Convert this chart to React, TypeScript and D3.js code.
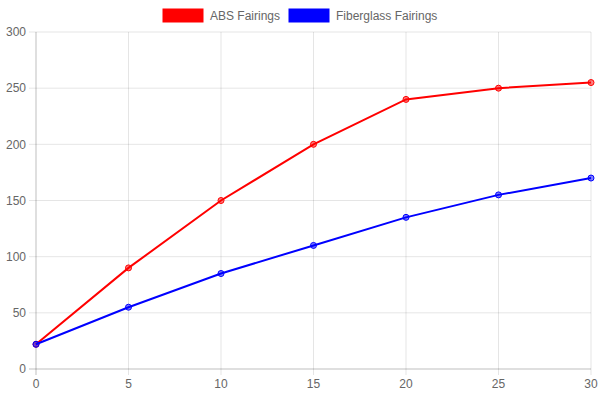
import React from "react";
import * as d3 from "d3";

const xValues = [0, 5, 10, 15, 20, 25, 30];
const absValues = [22, 90, 150, 200, 240, 250, 255];
const fiberValues = [22, 55, 85, 110, 135, 155, 170];
const yTicks = [0, 50, 100, 150, 200, 250, 300];
const seriesNames = ["ABS Fairings", "Fiberglass Fairings"];
const seriesColors = ["#ff0000", "#0000ff"];
const seriesFills = ["rgba(255,0,0,0.5)", "rgba(0,0,255,0.5)"];

const W = 600;
const H = 400;
const left = 36;
const right = 591;
const top = 32;
const bottom = 369;
const font = "'Liberation Sans', Arial, Helvetica, sans-serif";

export default function App() {
  const x = d3.scaleLinear().domain([0, 30]).range([left, right]);
  const y = d3.scaleLinear().domain([0, 300]).range([bottom, top]);
  const line = d3
    .line<number>()
    .x((_, i) => x(xValues[i]))
    .y((d) => y(d));
  const series = [absValues, fiberValues];

  return (
    <svg
      width={W}
      height={H}
      style={{ position: "absolute", left: 0, top: 0 }}
      fontFamily={font}
    >
      <rect width={W} height={H} fill="#fff" />
      {xValues.map((v) => (
        <line
          key={"gx" + v}
          x1={x(v)}
          x2={x(v)}
          y1={top}
          y2={bottom + 6}
          stroke={v === 0 ? "rgba(0,0,0,0.25)" : "rgba(0,0,0,0.1)"}
          strokeWidth={1}
        />
      ))}
      {yTicks.map((v) => (
        <line
          key={"gy" + v}
          x1={left - 7}
          x2={right}
          y1={y(v)}
          y2={y(v)}
          stroke={v === 0 ? "rgba(0,0,0,0.25)" : "rgba(0,0,0,0.1)"}
          strokeWidth={1}
        />
      ))}
      {yTicks.map((v) => (
        <text
          key={"ty" + v}
          x={left - 10}
          y={y(v)}
          dy="0.35em"
          textAnchor="end"
          fontSize={12}
          fill="#666"
        >
          {v}
        </text>
      ))}
      {xValues.map((v) => (
        <text
          key={"tx" + v}
          x={x(v)}
          y={bottom + 19}
          textAnchor="middle"
          fontSize={12}
          fill="#666"
        >
          {v}
        </text>
      ))}
      {series.map((s, si) => (
        <g key={"s" + si}>
          <path
            d={line(s) || ""}
            fill="none"
            stroke={seriesColors[si]}
            strokeWidth={2}
          />
          {s.map((v, i) => (
            <circle
              key={i}
              cx={x(xValues[i])}
              cy={y(v)}
              r={3}
              fill={seriesFills[si]}
              stroke={seriesColors[si]}
              strokeWidth={1}
            />
          ))}
        </g>
      ))}
      {(() => {
        const items: React.ReactNode[] = [];
        let cx = 163;
        seriesNames.forEach((name, i) => {
          const tw = name === "ABS Fairings" ? 69 : 101;
          items.push(
            <g key={"lg" + i}>
              <rect
                x={cx}
                y={9}
                width={40}
                height={13}
                fill={seriesColors[i]}
                stroke={seriesColors[i]}
              />
              <text x={cx + 47} y={20} fontSize={12} fill="#666">
                {name}
              </text>
            </g>
          );
          cx += 40 + 7 + tw + 10;
        });
        return items;
      })()}
    </svg>
  );
}
